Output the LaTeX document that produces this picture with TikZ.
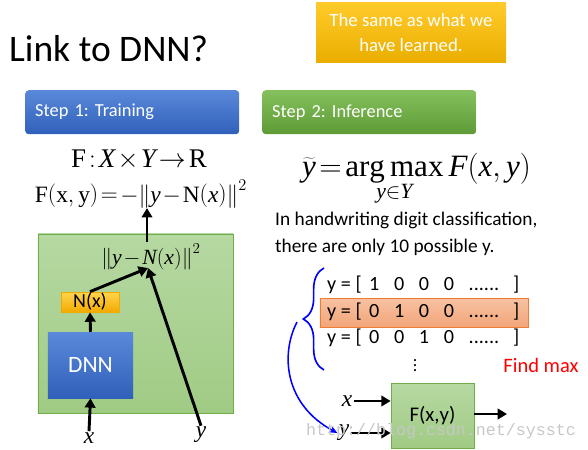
\documentclass[tikz,border=0pt]{standalone}
\usepackage{fix-cm}
\usepackage{fontspec}
\setmainfont{Carlito}
\setmathrm{Liberation Serif}
\newfontfamily\markfont{Liberation Mono}
\usetikzlibrary{arrows.meta,decorations.pathreplacing}
\frenchspacing

% Colours
\definecolor{notetop}{HTML}{FFCA2A}
\definecolor{notebot}{HTML}{EAAE00}
\definecolor{bluetop}{HTML}{5A89DA}
\definecolor{bluebot}{HTML}{3060BA}
\definecolor{greentop}{HTML}{84C05B}
\definecolor{greenbot}{HTML}{5E9B37}
\definecolor{panetop}{HTML}{B6D8A2}
\definecolor{panebot}{HTML}{A0CB84}
\definecolor{paneline}{HTML}{70AD47}
\definecolor{nxtop}{HTML}{FFD44E}
\definecolor{nxbot}{HTML}{F2AA00}
\definecolor{hltop}{HTML}{F7C2A2}
\definecolor{hlbot}{HTML}{F2A579}
\definecolor{hlline}{HTML}{ED7D31}

\newcommand{\dg}[1]{\makebox[21.3pt]{#1}}
\newcommand{\yrow}[4]{y = [\dg{#1}\dg{#2}\dg{#3}\dg{#4}\makebox[38.3pt]{......}\makebox[17pt]{]}}
\newcommand{\tight}{\thickmuskip=2mu\medmuskip=1.5mu}

\tikzset{
  fat arrow/.style={line width=2.5pt, -{Triangle[length=8pt,width=9pt]}},
  stepbox/.style={anchor=north west, rounded corners=3pt, text=white,
    font=\fontsize{15.7}{18}\selectfont, inner xsep=0.3cm, inner ysep=0pt,
    text width=5.82cm, minimum height=1.32cm, align=left},
  plainbox/.style={inner sep=0pt, draw=#1, line width=0.6pt},
  rowtext/.style={anchor=west, inner sep=0pt, font=\fontsize{17.2}{20}\selectfont},
  mathlabel/.style={inner sep=1pt, font=\fontsize{20}{24}\selectfont},
  formula/.style={inner sep=0pt, font=\fontsize{#1}{24}\selectfont\tight},
}

\begin{document}
\begin{tikzpicture}[x=0.03cm, y=-0.03cm]
    \useasboundingbox (0,0) rectangle (588,450);
    % Title and note
    \node[anchor=west, inner sep=0pt, font=\fontsize{32}{36}\selectfont] (title) at (9,49) {Link to DNN?};
    \node[top color=notetop, bottom color=notebot, text=white, align=center,
      minimum width=5.7cm, minimum height=1.77cm, inner sep=0pt,
      font=\fontsize{16}{22}\selectfont] (note) at (411,32.5) {The same as what we\\have learned.};
    % Step headers
    \node[stepbox, top color=bluetop, bottom color=bluebot] (train) at (25,90) {Step 1: Training};
    \node[stepbox, top color=greentop, bottom color=greenbot] (infer) at (262,90) {Step 2: Inference};
    % Training side
    \node[formula=23, anchor=base] (ftype) at (139,167) {$\mathrm{F}:\mathit{X}\times\mathit{Y}\rightarrow\mathrm{R}$};
    \node[formula=20, anchor=base] (fdef) at (141,202) {$\mathrm{F}\bigl(\mathrm{x},\mathrm{y}\bigr)=-\bigl\|\mathit{y}-\mathrm{N}\bigl(\mathit{x}\bigr)\bigr\|^{2}$};
    \node[plainbox=paneline, top color=panetop, bottom color=panebot,
      minimum width=5.85cm, minimum height=5.37cm] (pane) at (135.5,323.5) {};
    \node[formula=18.5, anchor=base] (loss) at (151,264) {$\bigl\|\mathit{y}-\mathit{N}\bigl(\mathit{x}\bigr)\bigr\|^{2}$};
    \node[plainbox=nxbot, top color=nxtop, bottom color=nxbot, minimum width=1.74cm,
      minimum height=0.6cm, font=\fontsize{17}{20}\selectfont] (nx) at (90,302) {N(x)};
    \node[inner sep=0pt, top color=bluetop, bottom color=bluebot, text=white, minimum width=2.55cm,
      minimum height=1.98cm, font=\fontsize{20}{24}\selectfont] (dnn) at (90.5,365) {DNN};
    \node[mathlabel] (xin) at (89,438) {$\mathit{x}$};
    \node[mathlabel] (yin) at (201,435) {$\mathit{y}$};
    \coordinate (lossin) at (148,268);
    \coordinate (lossup) at (147,242);
    \draw[fat arrow] (xin.north) -- (dnn.south);
    \draw[fat arrow] (dnn.north) -- (nx.south);
    \draw[fat arrow] (nx.north) -- (lossin);
    \draw[fat arrow] (yin.north) -- (lossin);
    \draw[fat arrow] (lossup) -- (lossup |- fdef.south);
    % Inference side
    \node[formula=26.5, anchor=base west] (argmax) at (302,176) {$\widetilde{\mathit{y}}=\mathop{\mathrm{arg\,max}}\limits_{\mathit{y}\in\mathit{Y}}\mathit{F}\bigl(\mathit{x},\mathit{y}\bigr)$};
    \node[anchor=west, align=left, inner sep=0pt, font=\fontsize{16.5}{23}\selectfont] (digits) at (275,234)
      {In handwriting digit classification,\\there are only 10 possible y.};
    \node[plainbox=hlline, top color=hltop, bottom color=hlbot, minimum width=6.24cm,
      minimum height=0.87cm] (hl) at (424,312.5) {};
    \node[rowtext] (row1) at (327,285) {\yrow1000};
    \node[rowtext] (row2) at (327,312) {\yrow0100};
    \node[rowtext] (row3) at (327,338) {\yrow0010};
    \node[inner sep=0pt, font=\fontsize{15}{16}\selectfont] (vdots) at (415,362) {$\vdots$};
    \node[text=red, inner sep=0pt, font=\fontsize{17.5}{20}\selectfont] (findmax) at (541,365) {Find max};
    \coordinate (brtop) at (324,268);
    \coordinate (brbot) at (324,370);
    \coordinate (brtip) at (297,322);
    \draw[blue, line width=1.4pt, decorate, decoration={brace, amplitude=0.62cm}] (brbot) -- (brtop);
    \node[plainbox=paneline, top color=panetop, bottom color=panebot, minimum width=2.49cm,
      minimum height=1.95cm, font=\fontsize{17.8}{20}\selectfont] (fxy) at (432.5,415.5) {F(x,y)};
    \node[mathlabel] (xin2) at (347,401) {$\mathit{x}$};
    \node[mathlabel] (yin2) at (344,433) {$\mathit{y}$};
    \coordinate (fxyout) at (507,414);
    \draw[fat arrow] (xin2.east) -- (xin2.east -| fxy.west);
    \draw[fat arrow] (yin2.east) -- (yin2.east -| fxy.west);
    \draw[fat arrow] (fxy.east |- fxyout) -- (fxyout);
    \draw[blue, line width=1.3pt, -{Stealth[length=7pt,width=6pt]}] (brtip) .. controls (280,355) and (285,405) .. (yin2.west);
    % Watermark
    \node[anchor=west, inner sep=0pt, text=black!22, font=\markfont\fontsize{14.2}{16}\selectfont] (mark) at (306,431) {http://blog.csdn.net/sysstc};
\end{tikzpicture}
\end{document}
